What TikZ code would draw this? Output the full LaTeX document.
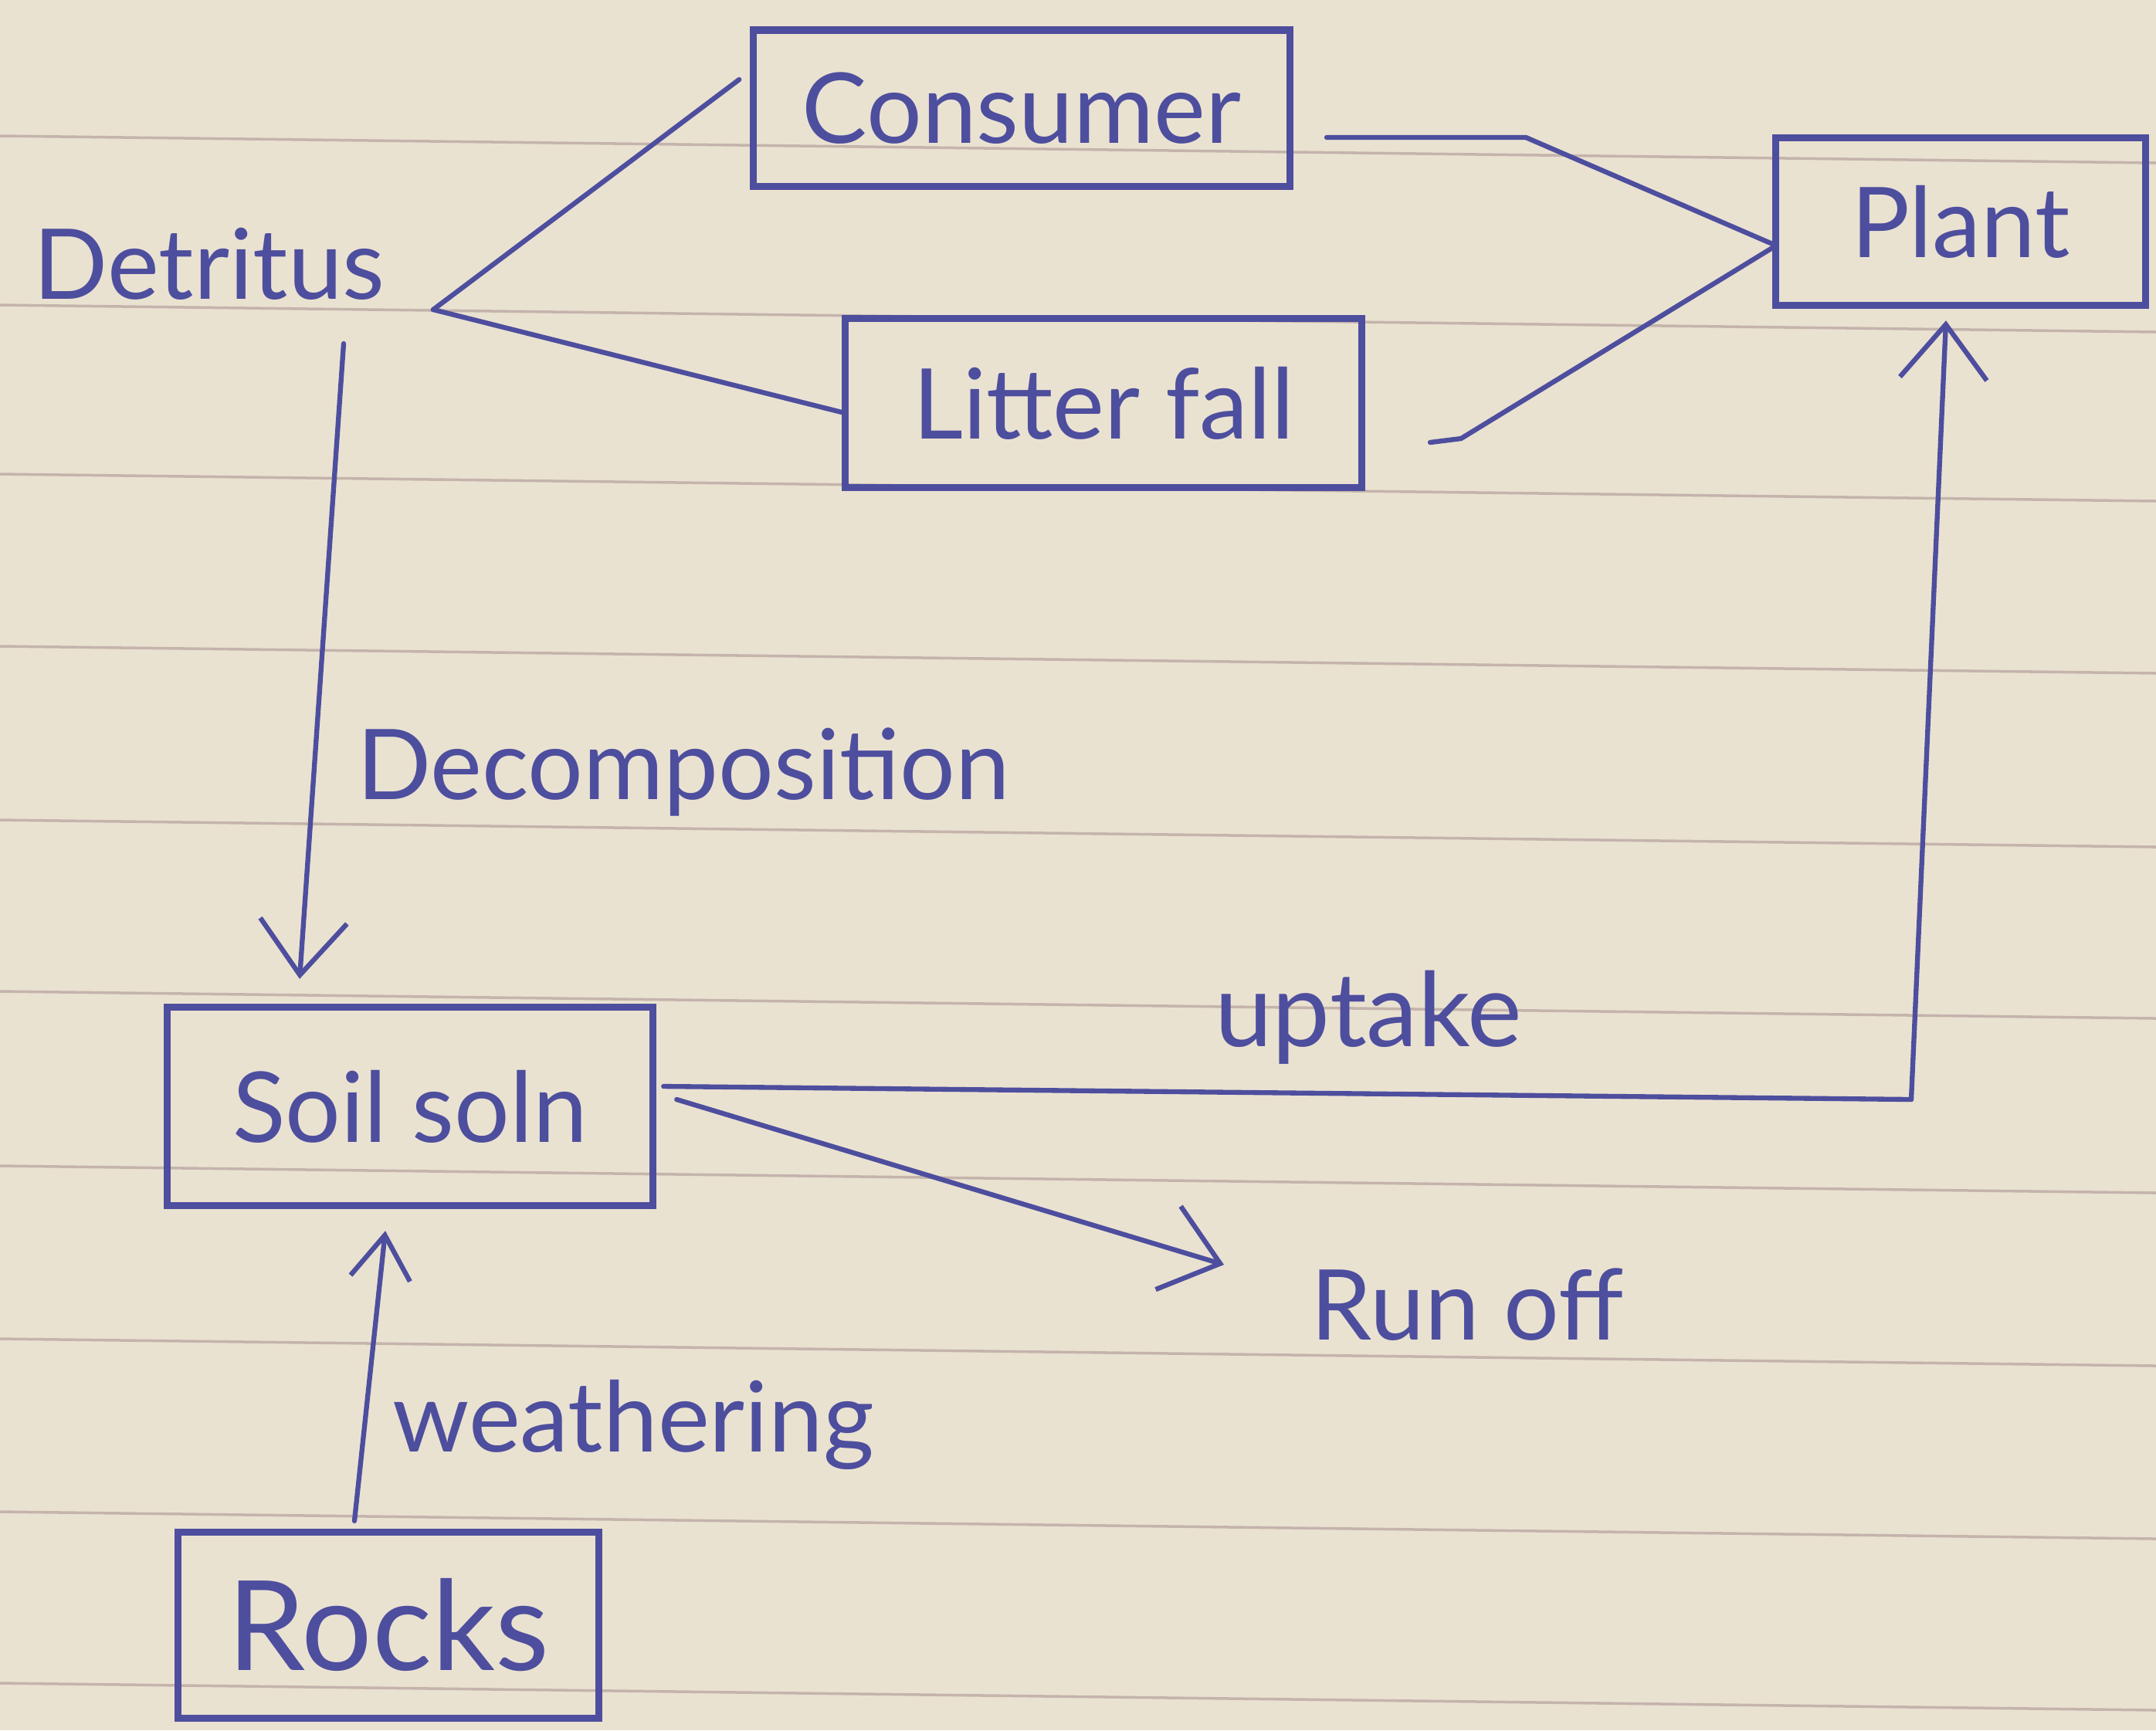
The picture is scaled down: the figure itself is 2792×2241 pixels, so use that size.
\documentclass[tikz,border=0pt]{standalone}
\usepackage{fontspec}
\setmainfont{Lato}
\usetikzlibrary{arrows.meta,calc}
\definecolor{paper}{RGB}{234,226,209}
\definecolor{ink}{RGB}{78,78,158}
\definecolor{rule}{RGB}{196,180,172}
\tikzset{
  box/.style={draw=ink, line width=2.6pt, inner sep=0pt, text=ink, font=\fontsize{36}{40}\selectfont},
  lbl/.style={text=ink, inner sep=0pt, font=\fontsize{36}{40}\selectfont},
  conn/.style={draw=ink, line width=1.8pt, line cap=round, line join=round},
  arr/.style={conn, -{Straight Barb[length=20pt,width=32pt,line width=1.8pt]}},
  sarr/.style={conn, -{Straight Barb[length=16pt,width=22pt,line width=1.8pt]}},
  ruled/.style={draw=rule, line width=1pt}
}
\begin{document}
\begin{tikzpicture}[x=0.01cm,y=-0.01cm]
\fill[paper] (0,0) rectangle (2792,2241);
\useasboundingbox (0,0) rectangle (2792,2241);
% notebook ruling
\foreach \yy in {176,395,614,837,1062,1284,1510,1734,1958,2180}{
  \draw[ruled] (0,\yy) -- (2792,\yy+35);
}
% nodes
\node[box, minimum width=6.94cm, minimum height=2.02cm] (cons) at (1323,140) {Consumer};
\node[box, minimum width=4.78cm, minimum height=2.17cm] (plant) at (2539,287) {Plant};
\node[box, minimum width=6.68cm, minimum height=2.19cm] (litter) at (1429,522) {Litter fall};
\node[box, minimum width=6.29cm, minimum height=2.57cm] (soil) at (531,1433) {Soil soln};
\node[box, minimum width=5.44cm, minimum height=2.41cm, font=\fontsize{46}{50}\selectfont] (rocks) at (503,2105) {Rocks};
\node[lbl] (detritus) at (271,342) {Detritus};
\node[lbl] (decomp) at (885,1000) {Decomposition};
\node[lbl, font=\fontsize{38}{42}\selectfont] (uptake) at (1772,1318) {uptake};
\node[lbl] (runoff) at (1900,1690) {Run off};
\node[lbl] (weather) at (820,1845) {weathering};
% helper coordinates
\coordinate (apex) at (561,401);
\coordinate (detdown) at (445,445);
\coordinate (consout) at (1718,178);
\coordinate (consbend) at (1976,178);
\coordinate (litout) at (1852,573);
\coordinate (plantin) at (2300,318);
\coordinate (corner) at (2475,1424);
\coordinate (runin) at (1585,1638);
% connectors
\draw[conn] (apex) -- ($(cons.west)+(-14,-37)$);
\draw[conn] (apex) -- ($(litter.west)+(0,12)$);
\draw[conn] (consout) -- (consbend) -- (plantin);
\draw[conn] (litout) -- ++(40,-5) -- (plantin);
\draw[arr] (detdown) -- ($(soil.north)+(-143,-32)$);
\draw[conn] ($(soil.east)+(9,-26)$) -- (corner);
\draw[arr] (corner) -- ($(plant.south)+(-19,15)$);
\draw[arr] ($(soil.east)+(26,-9)$) -- (runin);
\draw[sarr] ($(rocks.north)+(-44,-10)$) -- ($(soil.south)+(-32,28)$);
\end{tikzpicture}
\end{document}
